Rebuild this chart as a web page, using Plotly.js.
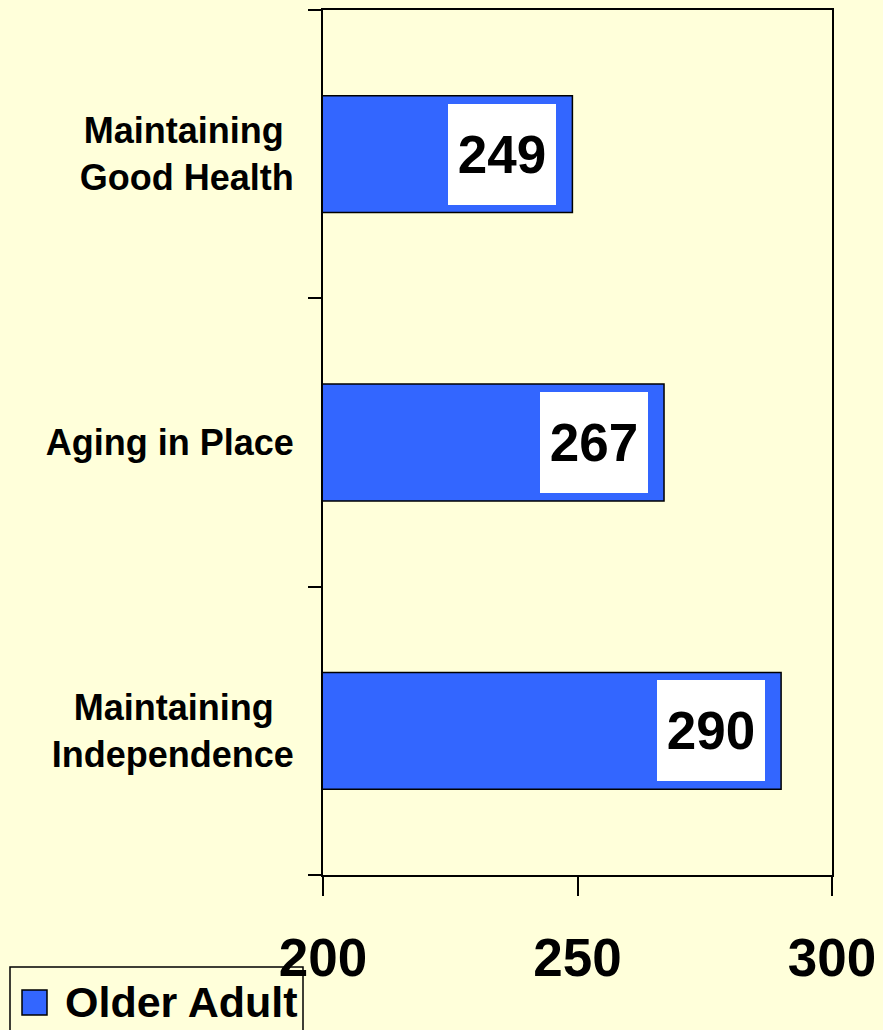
<!DOCTYPE html>
<html>
<head>
<meta charset="utf-8">
<script src="https://cdn.plot.ly/plotly-3.0.1.min.js"></script>
<style>html,body{margin:0;padding:0;background:#FFFFDA;}</style>
</head>
<body>
<div id="chart" style="width:883px;height:1030px;"></div>
<script>
// Data
var categories = ["Maintaining Good Health", "Aging in Place", "Maintaining Independence"];
var categoryLabels = ["Maintaining&nbsp;<br>Good Health", "Aging in Place", "Maintaining&nbsp;&nbsp;<br>Independence"];
var values = [249, 267, 290];
var seriesName = "Older Adult";
var xTickVals = [200, 250, 300];

var BG = '#FFFFDA';
var BAR = '#3366FF';
var FONT = 'Liberation Sans, Arial, sans-serif';

var trace = {
  type: 'bar',
  orientation: 'h',
  name: seriesName,
  y: categories,
  x: values,
  width: 0.405,
  marker: {color: BAR, line: {color: '#000000', width: 1.5}},
  hoverinfo: 'x+y',
  showlegend: false
};

// pixel -> paper helpers for legend box (plot area: x 323..832, y 10..875)
var L = 323, R = 51, T = 10, B = 155, W = 883 - L - R, H = 1030 - T - B;
function px(x) { return (x - L) / W; }
function py(y) { return (1030 - B - y) / H; }

var annotations = values.map(function (v, i) {
  return {
    x: v, y: categories[i], xref: 'x', yref: 'y',
    text: String(v), showarrow: false,
    xanchor: 'right', yanchor: 'middle', xshift: -16,
    width: 108, height: 101, bgcolor: '#FFFFFF',
    borderpad: 0, borderwidth: 0,
    font: {family: FONT, size: 53, color: '#000000', weight: 'bold'}
  };
});
annotations.push({
  x: px(63), y: py(1002), xref: 'paper', yref: 'paper',
  text: seriesName, showarrow: false, xanchor: 'left', yanchor: 'middle',
  font: {family: FONT, size: 43, color: '#000000', weight: 'bold'}
});

var shapes = [
  {type: 'rect', xref: 'paper', yref: 'paper', layer: 'below',
   x0: px(10), x1: px(303), y0: py(967), y1: py(1045),
   line: {color: '#000000', width: 1.5}, fillcolor: 'rgba(0,0,0,0)'},
  {type: 'rect', xref: 'paper', yref: 'paper',
   x0: px(22), x1: px(47), y0: py(990), y1: py(1015),
   line: {color: '#000000', width: 1.5}, fillcolor: BAR}
];

var layout = {
  width: 883, height: 1030,
  margin: {l: L, r: R, t: T, b: B, pad: 0},
  paper_bgcolor: BG, plot_bgcolor: BG,
  showlegend: false,
  xaxis: {
    range: [200, 300], tickvals: xTickVals, ticks: 'outside', ticklen: 19,
    tickwidth: 2, tickcolor: '#000', showline: true, linewidth: 2, linecolor: '#000',
    mirror: true, showgrid: false, zeroline: false, ticklabelstandoff: 16,
    tickfont: {family: FONT, size: 53, color: '#000', weight: 'bold'}
  },
  yaxis: {
    type: 'category', autorange: 'reversed', tickson: 'boundaries',
    tickvals: categories, ticktext: categoryLabels,
    ticks: 'outside', ticklen: 13, tickwidth: 2, tickcolor: '#000',
    showline: true, linewidth: 2, linecolor: '#000', mirror: true,
    showgrid: false, zeroline: false, ticklabelstandoff: 20,
    tickfont: {family: FONT, size: 36, color: '#000', weight: 'bold'}
  },
  annotations: annotations,
  shapes: shapes
};

Plotly.newPlot('chart', [trace], layout, {displayModeBar: false, staticPlot: true});
</script>
</body>
</html>
